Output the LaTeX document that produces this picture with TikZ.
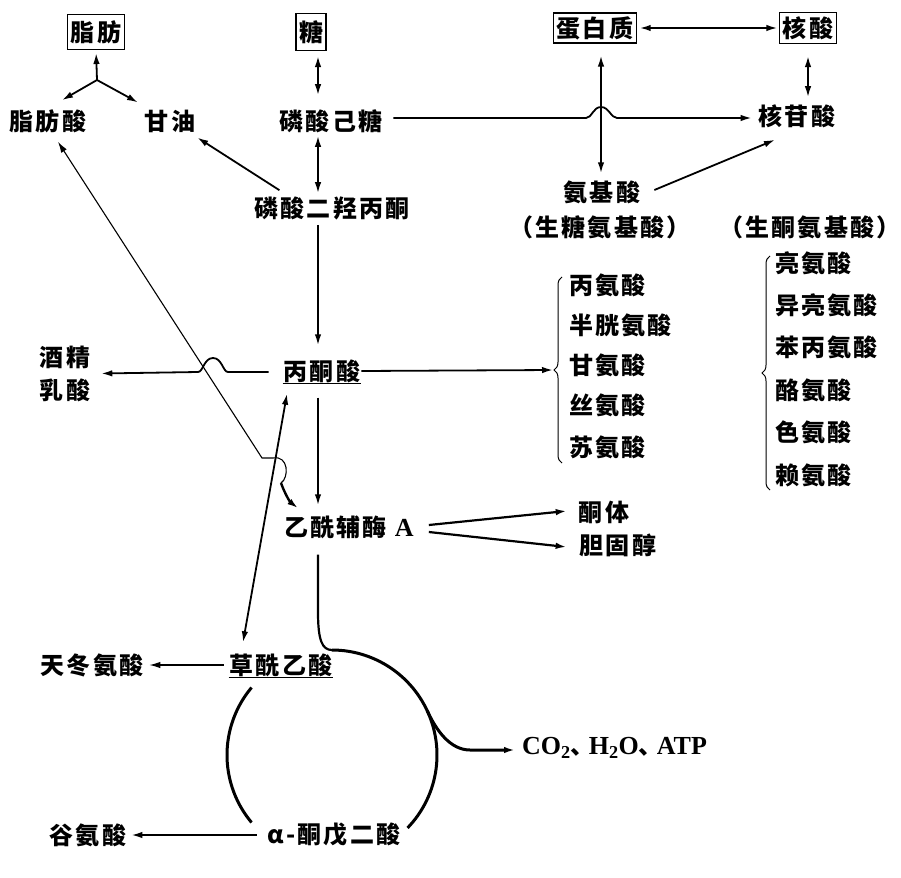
\documentclass[tikz,border=0pt]{standalone}
\usepackage{fontspec}
\setmainfont{Noto Sans CJK SC}[LetterSpace=9]
\newfontfamily\latinf{Liberation Serif}
\usetikzlibrary{arrows.meta,decorations.pathreplacing,calc}
\begin{document}
\begin{tikzpicture}[x=1pt,y=-1pt,>={Latex[length=11pt,width=6.5pt]},
  lbl/.style={font=\fontsize{24}{27}\selectfont\bfseries,inner sep=1pt},
  boxed/.style={lbl,draw,line width=1.1pt,inner sep=3pt},
  ln/.style={line width=1.8pt},
  hair/.style={line width=1.1pt},
  ar/.style={ln,->},
  dar/.style={ln,<->},
  cyc/.style={line width=3pt},
  brc/.style={line width=1pt,decorate,decoration={brace,amplitude=8pt}},
  ul/.style={line width=1.4pt},
]
\fill[white] (0,0) rectangle (901,877);
\useasboundingbox (0,0) rectangle (901,877);
\newcommand{\lat}[1]{{\latinf\fontsize{26}{28}\selectfont\bfseries #1}}

% boxes
\node[boxed,minimum height=35pt] (fat) at (96,32) {脂肪};
\node[boxed,minimum height=37pt] (sugar) at (311,32) {糖};
\node[boxed,minimum height=30pt] (prot) at (595,28) {蛋白质};
\node[boxed,minimum height=31pt] (nuc) at (808,28) {核酸};

% labels
\node[lbl] (fa) at (48,121) {脂肪酸};
\node[lbl] (gly) at (170,121) {甘油};
\node[lbl] (hp) at (331,121) {磷酸己糖};
\node[lbl] (nt) at (797,116) {核苷酸};
\node[lbl] (dhap) at (332,208) {磷酸二羟丙酮};
\node[lbl] (aa) at (602,192) {氨基酸};
\node[lbl] (glg) at (600,227) {（生糖氨基酸）};
\node[lbl] (ket) at (810,227) {（生酮氨基酸）};
\node[lbl] (alc) at (65,357) {酒精};
\node[lbl] (lac) at (65,390) {乳酸};
\node[lbl] (pyr) at (322,371) {丙酮酸};
\node[lbl] (acoa) at (349,527) {乙酰辅酶\hspace{8pt}\lat{A}};
\node[lbl] (kb) at (604,512) {酮体};
\node[lbl] (chol) at (618,545) {胆固醇};
\node[lbl] (oaa) at (281,665) {草酰乙酸};
\node[lbl] (asp) at (92,665) {天冬氨酸};
\node[lbl,anchor=west] (co2) at (521,748) {\lat{CO\textsubscript{2}}、\hspace{-6pt}\lat{H\textsubscript{2}O}、\hspace{-6pt}\lat{ATP}};
\node[lbl] (gluA) at (88,835) {谷氨酸};
\node[lbl] (akg) at (334,835) {α-酮戊二酸};

% glucogenic list
\node[lbl,anchor=west] (g1) at (568,285) {丙氨酸};
\node[lbl,anchor=west] (g2) at (568,325) {半胱氨酸};
\node[lbl,anchor=west] (g3) at (568,365) {甘氨酸};
\node[lbl,anchor=west] (g4) at (568,405) {丝氨酸};
\node[lbl,anchor=west] (g5) at (568,447) {苏氨酸};
% ketogenic list
\node[lbl,anchor=west] (k1) at (774,263) {亮氨酸};
\node[lbl,anchor=west] (k2) at (774,305) {异亮氨酸};
\node[lbl,anchor=west] (k3) at (774,347) {苯丙氨酸};
\node[lbl,anchor=west] (k4) at (774,390) {酪氨酸};
\node[lbl,anchor=west] (k5) at (774,432) {色氨酸};
\node[lbl,anchor=west] (k6) at (774,475) {赖氨酸};

% underlines
\draw[ul] (pyr.south west) -- (pyr.south east);
\draw[ul] (oaa.south west) -- (oaa.south east);

% braces
\coordinate (b1bot) at (562,463);
\coordinate (b1top) at (562,277);
\coordinate (b1tip) at (553,370);
\draw[brc] (b1bot) -- (b1top);
\coordinate (b2bot) at (770,490);
\coordinate (b2top) at (770,256);
\draw[brc] (b2bot) -- (b2top);

% helper coordinates
\coordinate (xs) at (318,0);
\coordinate (xp) at (601,0);
\coordinate (j) at (97,80);

% fat
\draw[ar,shorten >=3pt] (j) -- (fat.south);
\draw[ar] (j) -- ($(fa.north)+(14,-8)$);
\draw[ar] (j) -- ($(gly.north)+(-32,-6)$);

% sugar column
\draw[dar,shorten <=5pt,shorten >=13pt] (sugar.south -| xs) -- (hp.north -| xs);
\draw[dar,shorten <=2pt,shorten >=2pt] (hp.south -| xs) -- (dhap.north -| xs);
\draw[ar,shorten <=4pt,shorten >=13pt] (dhap.south -| xs) -- (pyr.north -| xs);
\draw[ar,shorten <=14pt,shorten >=9pt] (pyr.south -| xs) -- (acoa.north -| xs);
\draw[ar] ($(dhap.north west)+(26,-5)$) -- ($(gly.south east)+(1,4)$);

% hexose phosphate -> nucleotide with jump
\draw[ar] ($(hp.east)+(10,-3)$) -- (586,118) .. controls (592,118) and (593,107) .. (601,107)
  .. controls (609,107) and (611,118) .. (617,118) -- ($(nt.west)+(-6,2)$);

% protein
\draw[dar,shorten <=12pt,shorten >=6pt] (prot.south -| xp) -- (aa.north -| xp);
\draw[dar,shorten <=3pt,shorten >=2pt] (prot.east) -- (nuc.west);
\draw[dar,shorten <=12pt,shorten >=6pt] (nuc.south) -- (nuc.south |- nt.north);
\draw[ar] ($(aa.east)+(13,-2)$) -- ($(nt.south)+(-22,11)$);

% pyruvate -> alcohol / lactate with jump
\coordinate (alcin) at ($(alc.east)!.5!(lac.east)$);
\draw[ar] ($(pyr.west)+(-14,1)$) -- (228,372) .. controls (223,372) and (222,358) .. (213,358)
  .. controls (204,358) and (203,372) .. (198,372) -- ([xshift=10pt]alcin);
% pyruvate -> glucogenic brace
\draw[ar] (pyr.east) -- (b1tip);

% oxaloacetate <-> pyruvate
\draw[dar] ($(pyr.south)+(-35,10)$) -- ($(oaa.north)+(-38,-10)$);

% fatty acid <-> acetyl CoA with jump
\draw[hair,<-] ($(fa.south)+(10,8)$) -- (262,458) -- (273,458)
  .. controls (289,455) and (289,478) .. (281,483);
\draw[line width=2.4pt,->] (281,483) .. controls (285,494) and (290,502) .. ($(acoa.north west)+(15,-6)$);

% acetyl CoA -> ketone bodies / cholesterol
\draw[ar,line width=2.2pt] ($(acoa.east)+(14,-2)$) -- ($(kb.west)+(-11,-1)$);
\draw[ar,line width=2.2pt] ($(acoa.east)+(14,5)$) -- ($(chol.west)+(-12,2)$);

% cycle
\draw[line width=2.2pt] ($(acoa.south -| xs)+(0,15)$) -- (318,612)
  .. controls (318,640) and (322,650) .. (332,650);
\draw[cyc] plot[domain=270:404,samples=60,smooth] ({332+105*cos(\x)},{755+105*sin(\x)});
\draw[cyc] plot[domain=140:220,samples=30,smooth] ({332+105*cos(\x)},{755+105*sin(\x)});
\draw[cyc,->] (427.2,710.6) .. controls (436,730) and (450,750) .. (470,750) -- ($(co2.west)+(-6,2)$);

% side products
\draw[hair,->,shorten <=5pt,shorten >=5pt] (oaa.west) -- (asp.east);
\draw[ln,->,shorten <=10pt,shorten >=4pt] (akg.west) -- (gluA.east);
\end{tikzpicture}
\end{document}
